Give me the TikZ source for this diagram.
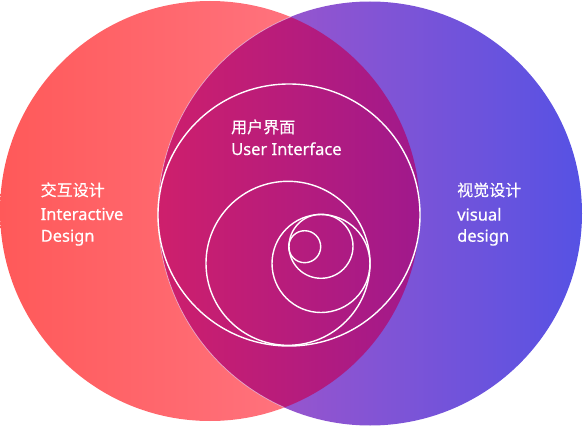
\documentclass[tikz,border=0pt]{standalone}
\usepackage{fontspec}
\setmainfont[FakeBold=0.45]{Noto Sans}
\newfontfamily\cjk[FakeBold=0.45]{Noto Sans CJK SC}
\definecolor{lA}{RGB}{255,89,89}
\definecolor{lB}{RGB}{255,126,142}
\definecolor{rA}{RGB}{178,86,196}
\definecolor{rB}{RGB}{86,82,228}
\definecolor{mA}{RGB}{206,31,108}
\definecolor{mB}{RGB}{160,25,140}
\tikzset{
  ring/.style={draw=white, line width=1.4pt},
  zh/.style={anchor=base west, text=white, inner sep=0pt, font=\cjk\fontsize{16}{16}\selectfont},
  en/.style={anchor=base west, text=white, inner sep=0pt, font=\fontsize{16.5}{16}\selectfont},
}
\begin{document}
\begin{tikzpicture}[x=1pt,y=-1pt]
\useasboundingbox (0,0) rectangle (584,428);
% left circle
\shade[left color=lA, right color=lB, shading=axis] (210,211) circle [radius=210pt];
% right circle
\shade[left color=rA, right color=rB, shading=axis] (370,213.5) circle [radius=212pt];
% lens
\begin{scope}
  \clip (210,211) circle [radius=210pt];
  \clip (370,213.5) circle [radius=212pt];
  \shade[left color=mA, right color=mB, shading=axis] (158,0) rectangle (420,428);
\end{scope}
\begin{scope}
  \clip (210,211) circle [radius=210pt];
  \draw[white, opacity=0.55, line width=0.7pt] (370,213.5) circle [radius=212pt];
\end{scope}
% white rings
\draw[ring] (289,215) circle [radius=131pt];
\draw[ring] (288,263.3) circle [radius=82pt];
\draw[ring] (321,263.5) circle [radius=49pt];
\draw[ring] (321,246.3) circle [radius=32pt];
\draw[ring] (304.7,246.7) circle [radius=16pt];
% texts
\node[zh] (uizh) at (231,133) {用户界面};
\node[en] (uien) at (231,155) {User Interface};
\node[zh] (ixzh) at (40.5,196) {交互设计};
\node[en] (ixen1) at (40.5,220) {Interactive};
\node[en] (ixen2) at (40.5,241.7) {Design};
\node[zh] (vdzh) at (457,196) {视觉设计};
\node[en] (vden1) at (457,220.5) {visual};
\node[en] (vden2) at (457,241.7) {design};
\end{tikzpicture}
\end{document}
